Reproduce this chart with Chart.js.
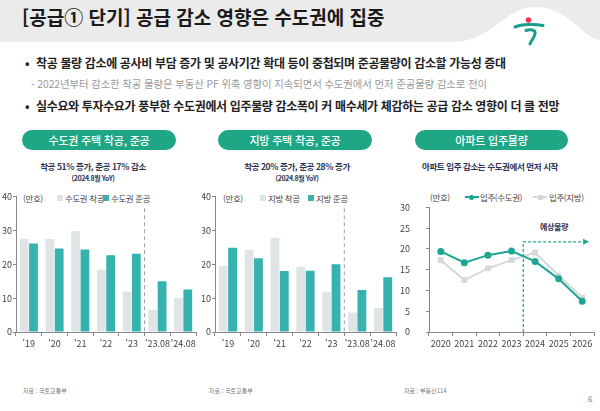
<!DOCTYPE html>
<html lang="ko">
<head>
<meta charset="utf-8">
<script src="https://cdn.jsdelivr.net/npm/chart.js"></script>
<style>
  html, body { margin: 0; padding: 0; }
  body { width: 600px; height: 411px; position: relative; overflow: hidden; background: #fff;
         font-family: 'Noto Sans CJK KR', 'Noto Sans', sans-serif; color: #222; }
  .abs { position: absolute; white-space: nowrap; }
  .pill { position: absolute; height: 20px; line-height: 20px; border-radius: 10px; background: #1ea685;
          color: #fff; font-size: 11px; font-weight: 500; text-align: center; letter-spacing: -0.2px; }
  .sub { position: absolute; text-align: center; color: #2e3552; font-weight: 700; font-size: 8.5px;
         line-height: 12px; letter-spacing: -0.4px; }
  .sub2 { position: absolute; text-align: center; color: #2e3552; font-weight: 700; font-size: 7px;
          line-height: 10px; letter-spacing: -0.4px; }
  .lg { position: absolute; font-size: 8.5px; line-height: 12px; color: #444; letter-spacing: -0.4px; }
  .sq { position: absolute; width: 6px; height: 6px; }
  .src { position: absolute; font-size: 6px; color: #777; line-height: 8px; }
  canvas { position: absolute; }
</style>
</head>
<body>
<svg class="abs" style="left:0;top:0" width="600" height="50">
  <path d="M0 0 H600 V40 C582 38 570 8 536 7 C505 6 492 42 452 42 H0 Z" fill="#ebebeb"/>
  <circle cx="528.5" cy="20" r="2.7" fill="#e8334a"/>
  <path d="M515 27 C522 24 535 24 543 25.5" stroke="#1a9e8c" stroke-width="3" fill="none" stroke-linecap="round"/>
  <path d="M526 30.5 C531 29 536 30 535 34 C534 38 531 41 530 44" stroke="#1a9e8c" stroke-width="3" fill="none" stroke-linecap="round"/>
</svg>

<div class="abs" style="left:22px;top:6px;font-size:19px;line-height:22px;font-weight:700;color:#1a1a1a;">[공급① 단기] 공급 감소 영향은 수도권에 집중</div>

<div class="abs" style="left:25px;top:56px;font-size:12px;line-height:14px;font-weight:700;">•</div>
<div class="abs" style="left:36px;top:56px;font-size:12px;line-height:14px;font-weight:700;letter-spacing:-0.35px;">착공 물량 감소에 공사비 부담 증가 및 공사기간 확대 등이 중첩되며 준공물량이 감소할 가능성 증대</div>
<div class="abs" style="left:31px;top:78px;font-size:10.4px;line-height:12px;color:#9a9a9a;letter-spacing:-0.1px;">- 2022년부터 감소한 착공 물량은 부동산 PF 위축 영향이 지속되면서 수도권에서 먼저 준공물량 감소로 전이</div>
<div class="abs" style="left:25px;top:99px;font-size:12px;line-height:14px;font-weight:700;">•</div>
<div class="abs" style="left:36px;top:99px;font-size:12px;line-height:14px;font-weight:700;letter-spacing:-0.35px;">실수요와 투자수요가 풍부한 수도권에서 입주물량 감소폭이 커 매수세가 체감하는 공급 감소 영향이 더 클 전망</div>

<div class="pill" style="left:22px;top:130px;width:154px;">수도권 주택 착공, 준공</div>
<div class="pill" style="left:218px;top:130px;width:154px;">지방 주택 착공, 준공</div>
<div class="pill" style="left:415px;top:130px;width:153px;">아파트 입주물량</div>

<div class="sub" style="left:0;top:160px;width:186px;">착공 51% 증가, 준공 17% 감소</div>
<div class="sub2" style="left:0;top:173px;width:186px;">(2024.8월 YoY)</div>
<div class="sub" style="left:200px;top:160px;width:194px;">착공 20% 증가, 준공 28% 증가</div>
<div class="sub2" style="left:200px;top:173px;width:194px;">(2024.8월 YoY)</div>
<div class="sub" style="left:400px;top:160px;width:180px;">아파트 입주 감소는 수도권에서 먼저 시작</div>

<!-- legends -->
<div class="lg" style="left:23px;top:192px;">(만호)</div>
<div class="sq" style="left:57px;top:195px;background:#dfe4e7;"></div>
<div class="lg" style="left:65px;top:192px;">수도권 착공</div>
<div class="sq" style="left:103px;top:195px;background:#36b3ae;"></div>
<div class="lg" style="left:111px;top:192px;">수도권 준공</div>

<div class="lg" style="left:223px;top:192px;">(만호)</div>
<div class="sq" style="left:260px;top:195px;background:#dfe4e7;"></div>
<div class="lg" style="left:268px;top:192px;">지방 착공</div>
<div class="sq" style="left:308px;top:195px;background:#36b3ae;"></div>
<div class="lg" style="left:316px;top:192px;">지방 준공</div>

<div class="lg" style="left:430px;top:191px;">(만호)</div>
<div class="abs" style="left:465px;top:196px;width:14px;height:2px;background:#1ea594;"></div>
<div class="abs" style="left:469px;top:194.5px;width:5px;height:5px;border-radius:50%;background:#1ea594;"></div>
<div class="lg" style="left:480px;top:191px;">입주(수도권)</div>
<div class="abs" style="left:533px;top:196px;width:14px;height:2px;background:#d3d8db;"></div>
<div class="abs" style="left:537.5px;top:194.5px;width:5px;height:5px;background:#d3d8db;"></div>
<div class="lg" style="left:549px;top:191px;">입주(지방)</div>

<div class="abs" style="left:540px;top:221px;font-size:8px;line-height:11px;font-weight:700;color:#2e3552;letter-spacing:-0.4px;">예상물량</div>

<canvas id="c1" width="200" height="170" style="left:0;top:186px;"></canvas>
<canvas id="c2" width="198" height="170" style="left:202px;top:186px;"></canvas>
<canvas id="c3" width="200" height="170" style="left:400px;top:186px;"></canvas>

<div class="src" style="left:23px;top:387px;">자료 : 국토교통부</div>
<div class="src" style="left:209px;top:387px;">자료 : 국토교통부</div>
<div class="src" style="left:404px;top:387px;">자료 : 부동산114</div>
<div class="abs" style="left:588px;top:394px;font-size:8px;line-height:10px;color:#777;">6</div>

<script>
// 단위: 만호
const barLabels = ["'19", "'20", "'21", "'22", "'23", "'23.08", "'24.08"];
const metroStart = [27.6, 27.5, 29.8, 18.4, 12.0, 6.6, 10.1];
const metroDone = [26.2, 24.7, 24.4, 22.7, 23.1, 15.0, 12.6];
const localStart = [19.5, 24.3, 27.9, 19.3, 11.9, 5.8, 7.1];
const localDone = [24.9, 21.8, 18.0, 18.1, 20.0, 12.4, 16.2];

const years = ['2020', '2021', '2022', '2023', '2024', '2025', '2026'];
const moveInMetro = [19.4, 16.7, 18.5, 19.5, 17.0, 12.8, 7.4];
const moveInLocal = [17.3, 12.5, 15.3, 17.3, 19.1, 13.6, 8.3];
const forecastLevel = 21.7;

Chart.defaults.font.family = "'Noto Sans CJK KR', 'Noto Sans', sans-serif";
Chart.defaults.font.size = 9;
Chart.defaults.color = '#444';

const GREY = '#dfe4e7';
const TEAL = '#36b3ae';

// dashed divider between yearly and monthly bars
const splitLine = {
  id: 'splitLine',
  afterDatasetsDraw(chart) {
    const { ctx, scales: { x, y } } = chart;
    const px = x.getPixelForValue(4.5);
    ctx.save();
    ctx.strokeStyle = '#9aa0a6';
    ctx.lineWidth = 1;
    ctx.setLineDash([4, 3]);
    ctx.beginPath();
    ctx.moveTo(px, y.getPixelForValue(36.6));
    ctx.lineTo(px, y.getPixelForValue(0));
    ctx.stroke();
    ctx.restore();
  }
};

function barChart(id, start, done, yWidth) {
  new Chart(document.getElementById(id), {
    type: 'bar',
    data: {
      labels: barLabels,
      datasets: [
        { data: start, backgroundColor: GREY },
        { data: done, backgroundColor: TEAL }
      ]
    },
    options: {
      responsive: false,
      animation: false,
      layout: { padding: { top: 10.7, right: 4, left: 0, bottom: 0 } },
      datasets: { bar: { categoryPercentage: 0.72, barPercentage: 0.95 } },
      plugins: { legend: { display: false }, tooltip: { enabled: false } },
      scales: {
        x: {
          afterFit: s => { s.height = 24; },
          grid: { drawOnChartArea: false, tickLength: 4, color: '#888' },
          border: { color: '#888' },
          ticks: { padding: 2, color: '#444', autoSkip: false, maxRotation: 0 }
        },
        y: {
          min: 0, max: 40,
          afterFit: s => { s.width = yWidth; },
          grid: { drawOnChartArea: false, tickLength: 3, color: '#888' },
          border: { color: '#888' },
          ticks: { stepSize: 10, padding: 1, color: '#444' }
        }
      }
    },
    plugins: [splitLine]
  });
}

barChart('c1', metroStart, metroDone, 16);
barChart('c2', localStart, localDone, 13);

// forecast marker: dashed line up from 2023/2024 boundary then arrow to the right
const forecastArrow = {
  id: 'forecastArrow',
  afterDatasetsDraw(chart) {
    const { ctx, scales: { x, y } } = chart;
    const x0 = x.getPixelForValue(3.5);
    const x1 = x.getPixelForValue(6.25);
    const yt = y.getPixelForValue(forecastLevel);
    ctx.save();
    ctx.strokeStyle = '#1ea685';
    ctx.fillStyle = '#1ea685';
    ctx.lineWidth = 1.2;
    ctx.setLineDash([3, 2]);
    ctx.beginPath();
    ctx.moveTo(x0, y.getPixelForValue(0));
    ctx.lineTo(x0, yt);
    ctx.lineTo(x1 - 4, yt);
    ctx.stroke();
    ctx.setLineDash([]);
    ctx.beginPath();
    ctx.moveTo(x1 + 1, yt);
    ctx.lineTo(x1 - 5, yt - 3);
    ctx.lineTo(x1 - 5, yt + 3);
    ctx.closePath();
    ctx.fill();
    ctx.restore();
  }
};

new Chart(document.getElementById('c3'), {
  type: 'line',
  data: {
    labels: years,
    datasets: [
      { data: moveInMetro, borderColor: '#1ea594', backgroundColor: '#1ea594', borderWidth: 2,
        pointRadius: 2.5, pointStyle: 'circle', tension: 0 },
      { data: moveInLocal, borderColor: '#d3d8db', backgroundColor: '#d3d8db', borderWidth: 2,
        pointRadius: 2.6, pointStyle: 'rect', tension: 0 }
    ]
  },
  options: {
    responsive: false,
    animation: false,
    layout: { padding: { top: 10.7, right: 4, left: 0, bottom: 0 } },
    plugins: { legend: { display: false }, tooltip: { enabled: false } },
    scales: {
      x: {
        offset: true,
        afterFit: s => { s.height = 24; },
        grid: { offset: true, drawOnChartArea: false, tickLength: 4, color: '#888' },
        border: { color: '#888' },
        ticks: { padding: 2, color: '#444', autoSkip: false, maxRotation: 0 }
      },
      y: {
        min: 0, max: 30,
        afterFit: s => { s.width = 29; },
        grid: { drawOnChartArea: false, tickLength: 3, color: '#888' },
        border: { color: '#888' },
        ticks: { stepSize: 5, padding: 16, color: '#444' }
      }
    }
  },
  plugins: [forecastArrow]
});
</script>
</body>
</html>
